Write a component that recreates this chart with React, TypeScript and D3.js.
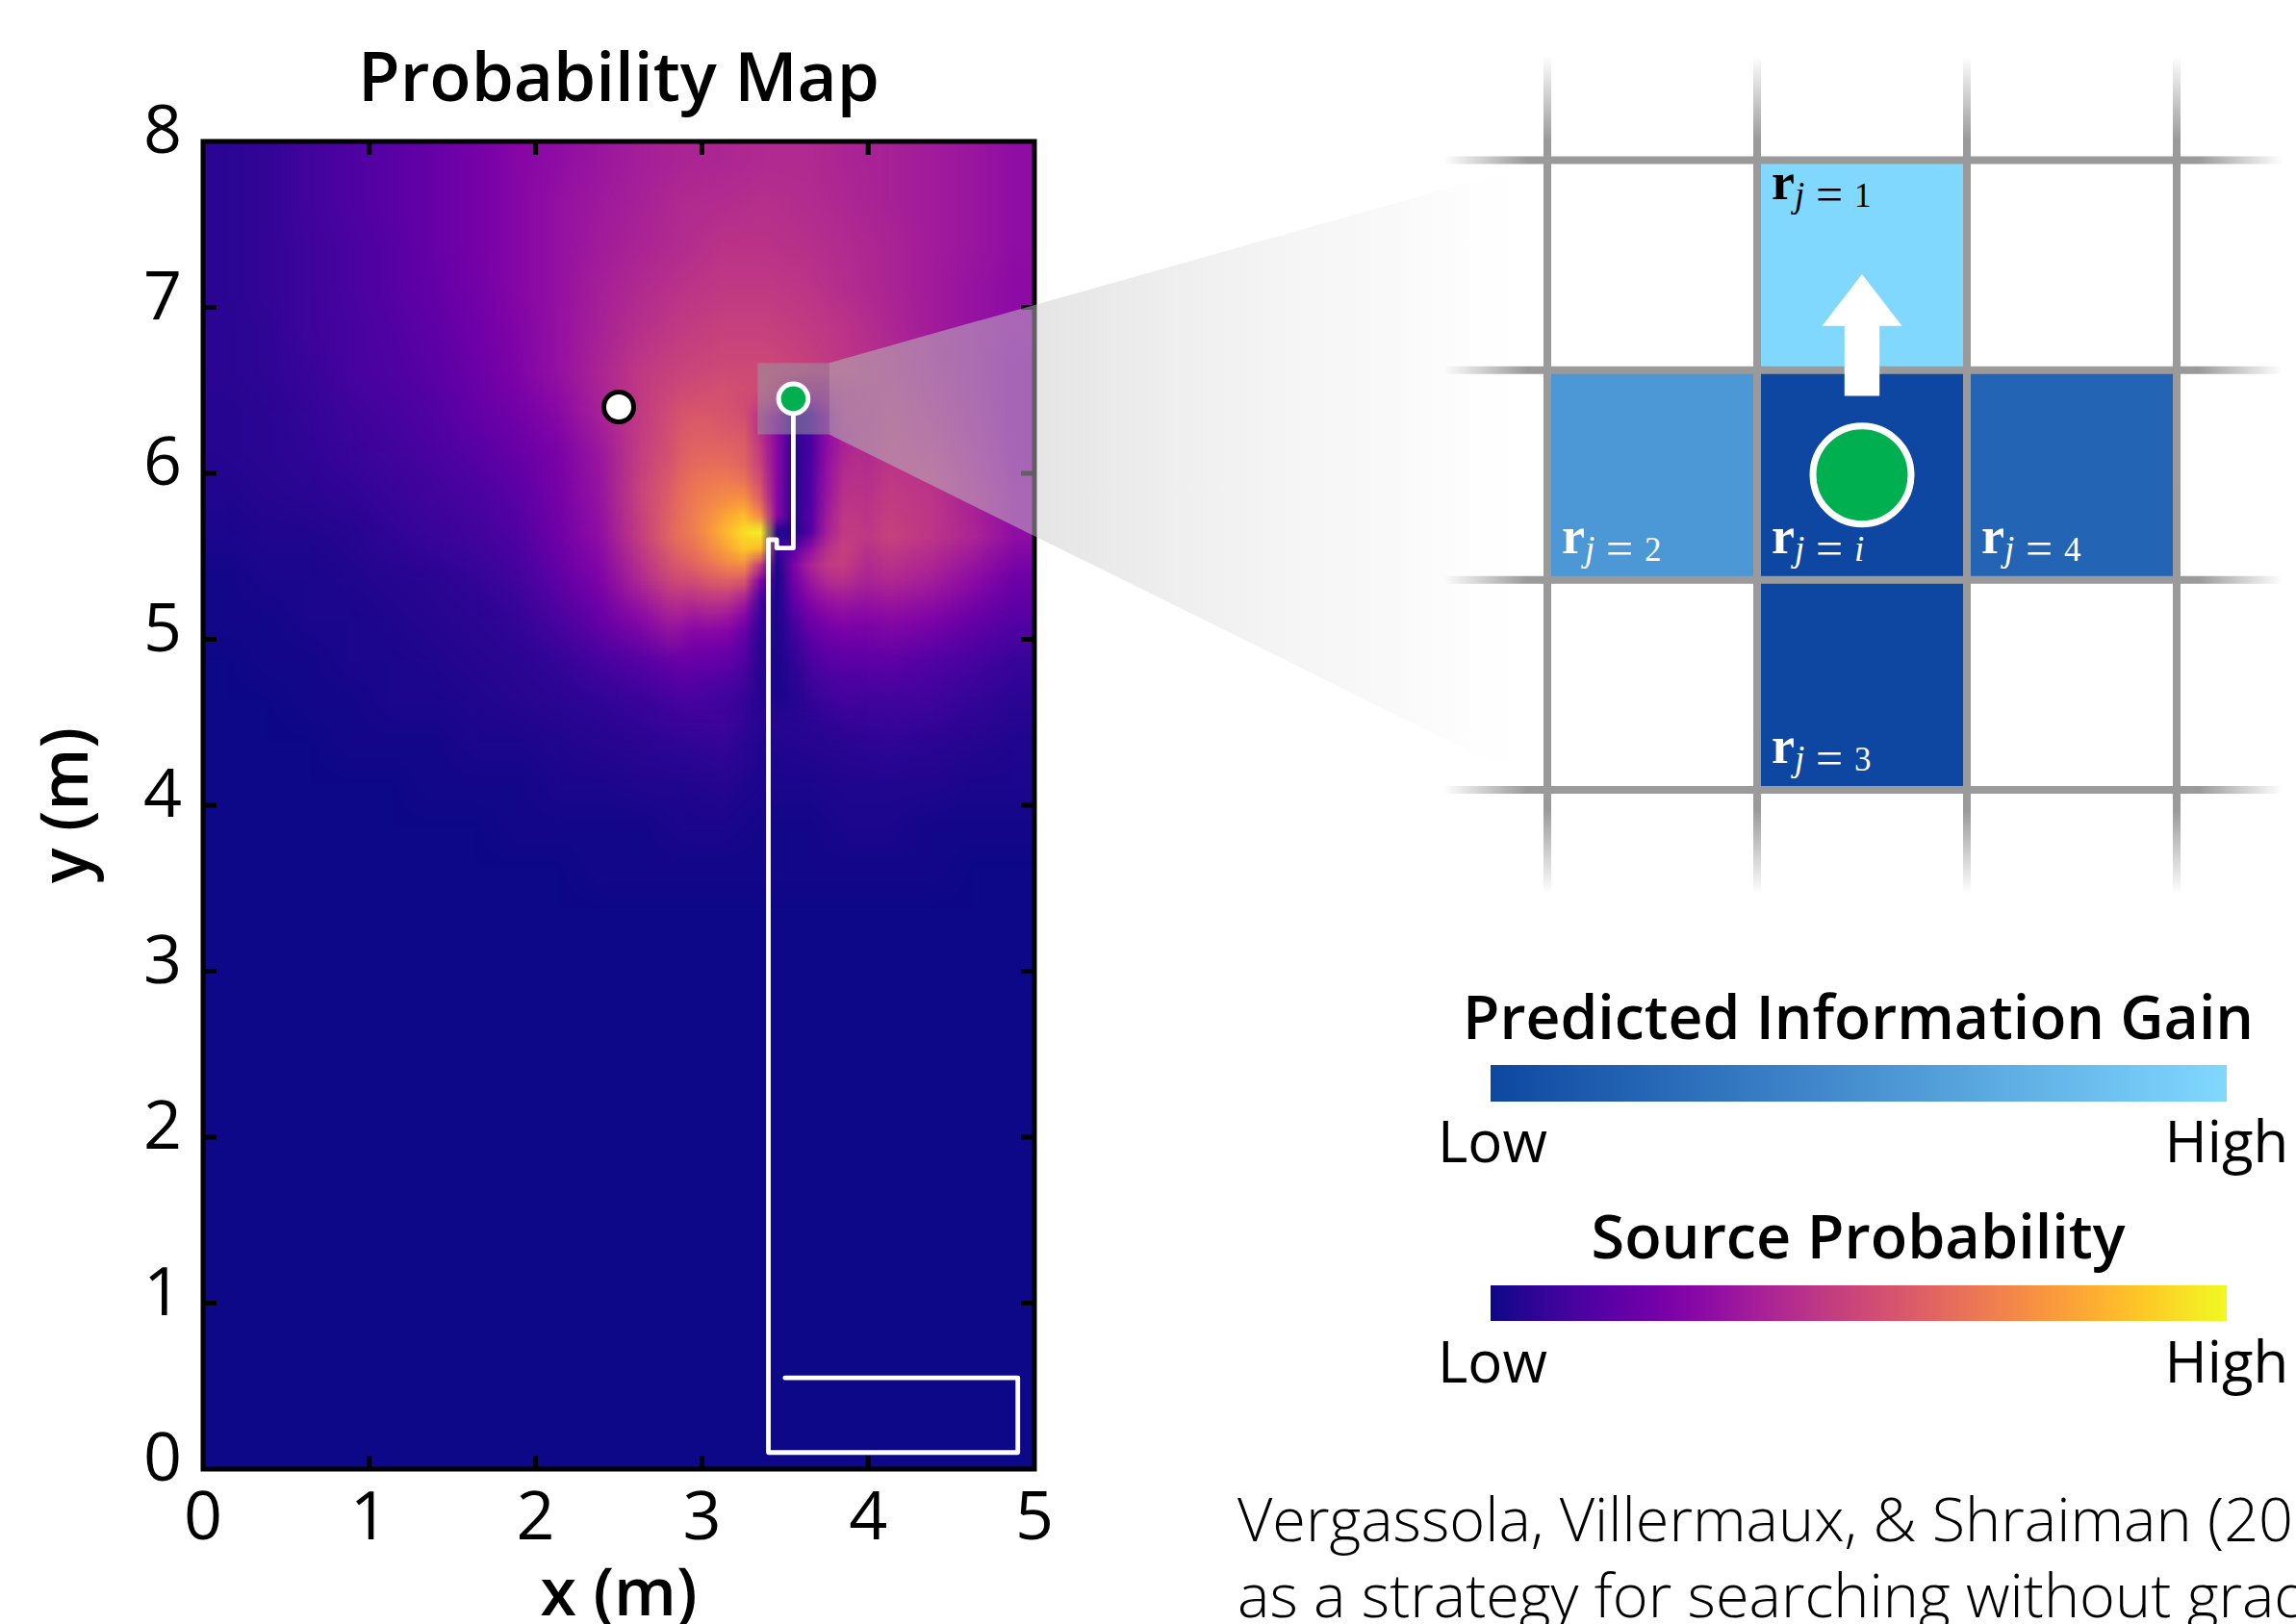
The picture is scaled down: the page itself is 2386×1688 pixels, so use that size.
import React from 'react';
import * as d3 from 'd3';

const W = 2386;
const H = 1688;

// ---------- axis data ----------
const xTickValues = [0, 1, 2, 3, 4, 5];
const yTickValues = [0, 1, 2, 3, 4, 5, 6, 7, 8];

// ---------- probability map (plasma value x100) ----------
// coarse grid: 0.25 m cells, 20 columns (x 0..5), rows from y=8 downward; rows not listed are 0
const coarseRows: number[][] = [
  [5, 7, 10, 13, 16, 19, 23, 27, 30, 33, 36, 38, 39, 40, 40, 38, 37, 35, 33, 30],
  [5, 7, 10, 13, 16, 19, 23, 27, 31, 34, 37, 40, 41, 42, 41, 39, 37, 35, 33, 30],
  [5, 7, 9, 12, 15, 19, 23, 27, 31, 35, 38, 41, 43, 43, 42, 40, 38, 35, 33, 30],
  [5, 7, 9, 12, 15, 18, 22, 27, 31, 36, 40, 43, 45, 45, 44, 41, 38, 35, 32, 29],
  [5, 6, 9, 11, 14, 17, 21, 26, 31, 37, 42, 46, 48, 48, 46, 43, 39, 35, 32, 29],
  [5, 6, 8, 11, 13, 16, 20, 25, 31, 38, 45, 49, 51, 51, 48, 44, 40, 36, 32, 28],
  [4, 5, 7, 9, 11, 14, 18, 22, 28, 37, 46, 54, 57, 50, 25, 38, 42, 38, 33, 28],
  [4, 5, 6, 8, 10, 12, 15, 19, 24, 33, 47, 57, 60, 52, 22, 38, 43, 41, 35, 28],
  [3, 4, 5, 6, 8, 10, 12, 16, 23, 32, 49, 62, 70, 58, 20, 40, 46, 44, 37, 30],
  [2, 3, 3, 4, 6, 8, 10, 13, 21, 30, 47, 66, 84, 40, 22, 42, 48, 44, 38, 30],
  [1, 2, 2, 3, 4, 5, 7, 10, 17, 25, 40, 55, 58, 25, 18, 36, 40, 36, 29, 21],
  [1, 1, 2, 2, 3, 4, 5, 7, 12, 19, 28, 38, 32, 15, 14, 25, 28, 25, 19, 15],
  [0, 1, 1, 2, 2, 3, 4, 5, 7, 11, 15, 20, 20, 8, 10, 16, 17, 14, 11, 8],
  [0, 0, 1, 1, 2, 2, 3, 4, 5, 6, 8, 11, 12, 5, 6, 9, 10, 9, 7, 5],
  [0, 0, 0, 1, 1, 1, 2, 2, 3, 4, 5, 6, 7, 3, 4, 5, 6, 5, 4, 3],
  [0, 0, 0, 0, 0, 1, 1, 1, 2, 2, 3, 3, 4, 2, 2, 3, 3, 3, 2, 2],
  [0, 0, 0, 0, 0, 0, 0, 1, 1, 1, 1, 2, 2, 1, 1, 2, 2, 1, 1, 1],
  [0, 0, 0, 0, 0, 0, 0, 0, 0, 1, 1, 1, 1, 1, 1, 1, 1, 1, 0, 0],
];
const coarseCell = 0.25;

// fine grid near the peak and the searched channel: 0.1 m cells, x 2.8..4.0, y 6.5..4.5
const fineRows: number[][] = [
  [53, 53, 53, 52, 50, 46, 40, 30, 30, 38, 42, 44],
  [55, 56, 56, 55, 53, 42, 30, 6, 12, 30, 40, 44],
  [57, 58, 58, 57, 56, 42, 28, 6, 12, 30, 38, 42],
  [58, 60, 60, 60, 58, 45, 28, 4, 12, 30, 38, 43],
  [60, 62, 63, 63, 60, 48, 28, 4, 13, 31, 40, 45],
  [62, 65, 67, 68, 66, 52, 28, 4, 14, 32, 42, 46],
  [63, 67, 70, 73, 74, 58, 28, 4, 14, 33, 43, 47],
  [63, 68, 74, 80, 85, 70, 28, 4, 15, 35, 45, 48],
  [63, 68, 76, 85, 94, 98, 4, 2, 15, 36, 46, 50],
  [60, 65, 72, 80, 88, 85, 8, 15, 30, 42, 48, 50],
  [55, 60, 65, 70, 72, 45, 2, 25, 38, 45, 47, 48],
  [48, 52, 56, 58, 55, 25, 2, 22, 33, 40, 42, 43],
  [40, 43, 45, 45, 38, 12, 2, 18, 28, 33, 35, 36],
  [33, 35, 36, 35, 28, 8, 2, 14, 22, 27, 29, 30],
  [27, 28, 28, 27, 20, 6, 2, 10, 18, 22, 24, 25],
  [22, 22, 22, 21, 16, 5, 2, 8, 14, 18, 19, 20],
  [18, 18, 18, 17, 13, 5, 2, 6, 11, 15, 16, 17],
  [15, 15, 14, 13, 10, 4, 2, 5, 9, 12, 13, 14],
  [12, 12, 11, 10, 8, 4, 2, 4, 7, 10, 11, 11],
  [10, 10, 9, 8, 6, 3, 2, 3, 6, 8, 9, 9],
];
const fineCell = 0.1;
const fineLeft = 2.8;
const fineTop = 6.5;
const fineFeather = 0.15;

// ---------- trajectory & markers ----------
const trajX = [3.5, 4.9, 4.9, 3.4, 3.4, 3.45, 3.45, 3.55, 3.55];
const trajY = [0.55, 0.55, 0.1, 0.1, 5.6, 5.6, 5.55, 5.55, 6.45];
const sourceX = 2.5;
const sourceY = 6.4;
const agentX = 3.55;
const agentY = 6.45;
const zoomHalf = 0.215;

// ---------- neighbour cells (right panel) ----------
const cellLabels = ['1', '2', 'i', '4', '3'];
const cellCols = [1, 0, 1, 2, 1];
const cellRows = [0, 1, 1, 1, 2];
const cellGain = [1.0, 0.55, 0.0, 0.2, 0.0];

// ---------- legend ----------
const gainLegendTitle = 'Predicted Information Gain';
const probLegendTitle = 'Source Probability';
const legendEnds = ['Low', 'High'];
const citationLines = [
  'Vergassola, Villermaux, & Shraiman (2007). Infotaxis',
  'as a strategy for searching without gradients. Nature',
];

const FONT = '"Open Sans", "Noto Sans", sans-serif';
const SERIF = '"Liberation Serif", "DejaVu Serif", serif';

const plasma = (v: number) => d3.interpolatePlasma(Math.max(0, Math.min(1, v / 100)));

function gridImage(rows: number[][], nCols: number, nRows: number, outW: number, outH: number): string {
  if (typeof document === 'undefined') return '';
  const small = document.createElement('canvas');
  small.width = nCols;
  small.height = nRows;
  const ctx = small.getContext('2d');
  if (!ctx) return '';
  for (let r = 0; r < nRows; r++) {
    for (let c = 0; c < nCols; c++) {
      const v = r < rows.length ? rows[r][c] : 0;
      ctx.fillStyle = plasma(v);
      ctx.fillRect(c, r, 1, 1);
    }
  }
  const big = document.createElement('canvas');
  big.width = Math.round(outW);
  big.height = Math.round(outH);
  const bctx = big.getContext('2d');
  if (!bctx) return '';
  bctx.imageSmoothingEnabled = true;
  bctx.drawImage(small, 0, 0, big.width, big.height);
  return big.toDataURL('image/png');
}

export default function App() {
  const x = d3.scaleLinear().domain([0, 5]).range([211, 1075]);
  const y = d3.scaleLinear().domain([0, 8]).range([1527, 147]);
  const gainColor = d3.scaleLinear<string>().domain([0, 1]).range(['#0D47A1', '#80D8FF']).interpolate(d3.interpolateRgb);

  const gx = d3.scaleLinear().domain([0, 3]).range([1608, 2262]);
  const gy = d3.scaleLinear().domain([0, 3]).range([166.5, 820.9]);

  const pL = x(0), pR = x(5), pT = y(8), pB = y(0);

  const nCoarseCols = coarseRows[0].length;
  const nCoarseRows = Math.round(8 / coarseCell);
  const coarseURL = React.useMemo(
    () => gridImage(coarseRows, nCoarseCols, nCoarseRows, pR - pL, pB - pT),
    []
  );
  const fineX0 = x(fineLeft);
  const fineX1 = x(fineLeft + fineRows[0].length * fineCell);
  const fineY0 = y(fineTop);
  const fineY1 = y(fineTop - fineRows.length * fineCell);
  const fineURL = React.useMemo(
    () => gridImage(fineRows, fineRows[0].length, fineRows.length, fineX1 - fineX0, fineY1 - fineY0),
    []
  );
  const fhOff = fineFeather / (fineRows[0].length * fineCell);
  const fvOff = fineFeather / (fineRows.length * fineCell);

  const line = d3.line<number>().x((_, i) => x(trajX[i])).y((_, i) => y(trajY[i]));
  const trajPath = line(trajX) || '';

  // zoom square and cone
  const sqL = x(agentX - zoomHalf), sqR = x(agentX + zoomHalf);
  const sqT = y(agentY + zoomHalf), sqB = y(agentY - zoomHalf);
  const conePts = [
    [sqR, sqT], [gx(0), gy(0)], [gx(0), gy(3)], [sqR, sqB],
  ].map((p) => p.join(',')).join(' ');

  const plasmaStops = d3.range(0, 1.0001, 0.05);

  // arrow on grid
  const ac = (gx(1) + gx(2)) / 2;
  const arrowPts = [
    [ac, 285], [ac + 41.5, 338.7], [ac + 18.2, 338.7], [ac + 18.2, 411.6],
    [ac - 18.2, 411.6], [ac - 18.2, 338.7], [ac - 41.5, 338.7],
  ].map((p) => p.join(',')).join(' ');

  const gridIdx = [0, 1, 2, 3];
  const legendL = 1549, legendR = 2314;
  const legendC = 1931;

  return (
    <svg width={W} height={H} viewBox={`0 0 ${W} ${H}`} style={{ position: 'absolute', left: 0, top: 0, background: '#fff' }}>
      <defs>
        <clipPath id="plotClip">
          <rect x={pL} y={pT} width={pR - pL} height={pB - pT} />
        </clipPath>
        <linearGradient id="fadeH" gradientUnits="userSpaceOnUse" x1={fineX0} y1={0} x2={fineX1} y2={0}>
          <stop offset="0" stopColor="#000" />
          <stop offset={fhOff} stopColor="#fff" />
          <stop offset={1 - fhOff} stopColor="#fff" />
          <stop offset="1" stopColor="#000" />
        </linearGradient>
        <linearGradient id="fadeV" gradientUnits="userSpaceOnUse" x1={0} y1={fineY0} x2={0} y2={fineY1}>
          <stop offset="0" stopColor="#000" />
          <stop offset={fvOff} stopColor="#fff" />
          <stop offset={1 - fvOff} stopColor="#fff" />
          <stop offset="1" stopColor="#000" />
        </linearGradient>
        <mask id="maskH" maskUnits="userSpaceOnUse" x={fineX0} y={fineY0} width={fineX1 - fineX0} height={fineY1 - fineY0}>
          <rect x={fineX0} y={fineY0} width={fineX1 - fineX0} height={fineY1 - fineY0} fill="url(#fadeH)" />
        </mask>
        <mask id="maskV" maskUnits="userSpaceOnUse" x={fineX0} y={fineY0} width={fineX1 - fineX0} height={fineY1 - fineY0}>
          <rect x={fineX0} y={fineY0} width={fineX1 - fineX0} height={fineY1 - fineY0} fill="url(#fadeV)" />
        </mask>
        <linearGradient id="coneGrad" gradientUnits="userSpaceOnUse" x1={sqR} y1={0} x2={gx(0)} y2={0}>
          <stop offset="0" stopColor="rgb(175,175,175)" stopOpacity={0.6} />
          <stop offset="0.285" stopColor="rgb(200,200,200)" stopOpacity={0.48} />
          <stop offset="0.8" stopColor="rgb(225,225,225)" stopOpacity={0.18} />
          <stop offset="1" stopColor="rgb(255,255,255)" stopOpacity={0} />
        </linearGradient>
        <linearGradient id="hFade" gradientUnits="userSpaceOnUse" x1={gx(0) - 108} y1={0} x2={gx(3) + 110} y2={0}>
          <stop offset="0" stopColor="#9a9a9a" stopOpacity={0} />
          <stop offset="0.1" stopColor="#9a9a9a" stopOpacity={1} />
          <stop offset="0.9" stopColor="#9a9a9a" stopOpacity={1} />
          <stop offset="1" stopColor="#9a9a9a" stopOpacity={0} />
        </linearGradient>
        <linearGradient id="vFade" gradientUnits="userSpaceOnUse" x1={0} y1={gy(0) - 108} x2={0} y2={gy(3) + 108}>
          <stop offset="0" stopColor="#9a9a9a" stopOpacity={0} />
          <stop offset="0.1" stopColor="#9a9a9a" stopOpacity={1} />
          <stop offset="0.9" stopColor="#9a9a9a" stopOpacity={1} />
          <stop offset="1" stopColor="#9a9a9a" stopOpacity={0} />
        </linearGradient>
        <linearGradient id="gainGrad" x1="0" y1="0" x2="1" y2="0">
          {d3.range(0, 1.0001, 0.1).map((t) => (
            <stop key={t} offset={t} stopColor={gainColor(t)} />
          ))}
        </linearGradient>
        <linearGradient id="plasmaGrad" x1="0" y1="0" x2="1" y2="0">
          {plasmaStops.map((t) => (
            <stop key={t} offset={t} stopColor={d3.interpolatePlasma(t)} />
          ))}
        </linearGradient>
      </defs>

      {/* title */}
      <text x={(pL + pR) / 2} y={105} textAnchor="middle" fontFamily={FONT} fontWeight={600} fontSize={71} fill="#000">
        Probability Map
      </text>

      {/* heat map */}
      <g clipPath="url(#plotClip)">
        <rect x={pL} y={pT} width={pR - pL} height={pB - pT} fill={plasma(0)} />
        {coarseURL && (
          <image href={coarseURL} x={pL} y={pT} width={pR - pL} height={pB - pT} preserveAspectRatio="none" />
        )}
        {fineURL && (
          <g mask="url(#maskV)">
            <image href={fineURL} mask="url(#maskH)" x={fineX0} y={fineY0} width={fineX1 - fineX0} height={fineY1 - fineY0} preserveAspectRatio="none" />
          </g>
        )}
      </g>

      {/* axes frame + ticks */}
      <rect x={pL} y={pT} width={pR - pL} height={pB - pT} fill="none" stroke="#000" strokeWidth={5} />
      {xTickValues.slice(1, -1).map((v) => (
        <g key={`xt${v}`} stroke="#000" strokeWidth={5}>
          <line x1={x(v)} x2={x(v)} y1={pB} y2={pB - 14} />
          <line x1={x(v)} x2={x(v)} y1={pT} y2={pT + 14} />
        </g>
      ))}
      {yTickValues.slice(1, -1).map((v) => (
        <g key={`yt${v}`} stroke="#000" strokeWidth={5}>
          <line x1={pL} x2={pL + 14} y1={y(v)} y2={y(v)} />
          <line x1={pR} x2={pR - 14} y1={y(v)} y2={y(v)} />
        </g>
      ))}
      {xTickValues.map((v) => (
        <text key={`xl${v}`} x={x(v)} y={1600} textAnchor="middle" fontFamily={FONT} fontSize={70} fill="#000">
          {v}
        </text>
      ))}
      {yTickValues.map((v) => (
        <text key={`yl${v}`} x={189} y={y(v) + 12} textAnchor="end" fontFamily={FONT} fontSize={70} fill="#000">
          {v}
        </text>
      ))}
      <text x={(pL + pR) / 2} y={1679} textAnchor="middle" fontFamily={FONT} fontWeight={600} fontSize={68} fill="#000">
        x (m)
      </text>
      <text transform={`translate(91, ${(pT + pB) / 2}) rotate(-90)`} textAnchor="middle" fontFamily={FONT} fontWeight={600} fontSize={68} fill="#000">
        y (m)
      </text>

      {/* zoom square + cone */}
      <rect x={sqL} y={sqT} width={sqR - sqL} height={sqB - sqT} fill="rgb(150,150,160)" fillOpacity={0.55} />
      <polygon points={conePts} fill="url(#coneGrad)" />

      {/* trajectory */}
      <path d={trajPath} fill="none" stroke="#fff" strokeWidth={4.8} strokeLinejoin="round" strokeLinecap="round" />
      <circle cx={x(sourceX)} cy={y(sourceY)} r={15.5} fill="#fff" stroke="#000" strokeWidth={5} />
      <circle cx={x(agentX)} cy={y(agentY)} r={15.3} fill="#00b050" stroke="#fff" strokeWidth={5} />

      {/* right panel grid */}
      {cellLabels.map((lab, i) => (
        <rect
          key={`cell${lab}`}
          x={gx(cellCols[i])}
          y={gy(cellRows[i])}
          width={gx(cellCols[i] + 1) - gx(cellCols[i])}
          height={gy(cellRows[i] + 1) - gy(cellRows[i])}
          fill={gainColor(cellGain[i])}
        />
      ))}
      {gridIdx.map((i) => (
        <line key={`h${i}`} x1={gx(0) - 108} x2={gx(3) + 110} y1={gy(i)} y2={gy(i) + 0.01} stroke="url(#hFade)" strokeWidth={8} />
      ))}
      {gridIdx.map((i) => (
        <line key={`v${i}`} x1={gx(i)} x2={gx(i) + 0.01} y1={gy(0) - 108} y2={gy(3) + 108} stroke="url(#vFade)" strokeWidth={8} />
      ))}
      <polygon points={arrowPts} fill="#fff" />
      <circle cx={(gx(1) + gx(2)) / 2} cy={(gy(1) + gy(2)) / 2} r={51} fill="#00b050" stroke="#fff" strokeWidth={7} />

      {cellLabels.map((lab, i) => {
        const lx = gx(cellCols[i]) + 15;
        const ly = i === 0 ? gy(cellRows[i]) + 40 : gy(cellRows[i] + 1) - 28;
        const col = i === 0 ? '#000' : '#fff';
        const isIdx = lab === 'i';
        return (
          <g key={`lab${lab}`} fill={col} fontFamily={SERIF}>
            <text x={lx} y={ly} fontSize={54} fontWeight={700}>r</text>
            <text x={lx + 24} y={ly + 8} fontSize={37} fontStyle="italic">j</text>
            <text x={lx + 46} y={ly + 12} fontSize={50}>=</text>
            <text x={lx + 86} y={ly + 8} fontSize={isIdx ? 37 : 35} fontStyle={isIdx ? 'italic' : 'normal'}>{lab}</text>
          </g>
        );
      })}

      {/* legends */}
      <text x={legendC} y={1080} textAnchor="middle" fontFamily={FONT} fontWeight={600} fontSize={62.5} fill="#000">
        {gainLegendTitle}
      </text>
      <rect x={legendL} y={1107} width={legendR - legendL} height={38} fill="url(#gainGrad)" />
      <text x={legendL + 2} y={1208} textAnchor="middle" fontFamily={FONT} fontSize={60} fill="#000">{legendEnds[0]}</text>
      <text x={legendR} y={1208} textAnchor="middle" fontFamily={FONT} fontSize={60} fill="#000">{legendEnds[1]}</text>

      <text x={legendC} y={1308} textAnchor="middle" fontFamily={FONT} fontWeight={600} fontSize={63} fill="#000">
        {probLegendTitle}
      </text>
      <rect x={legendL} y={1336} width={legendR - legendL} height={37} fill="url(#plasmaGrad)" />
      <text x={legendL + 2} y={1437} textAnchor="middle" fontFamily={FONT} fontSize={60} fill="#000">{legendEnds[0]}</text>
      <text x={legendR} y={1437} textAnchor="middle" fontFamily={FONT} fontSize={60} fill="#000">{legendEnds[1]}</text>

      {/* citation */}
      {citationLines.map((t, i) => (
        <text key={`cit${i}`} x={1286} y={1602 + i * 79} fontFamily={FONT} fontWeight={300} fontSize={63} fill="#000">
          {t}
        </text>
      ))}
    </svg>
  );
}
